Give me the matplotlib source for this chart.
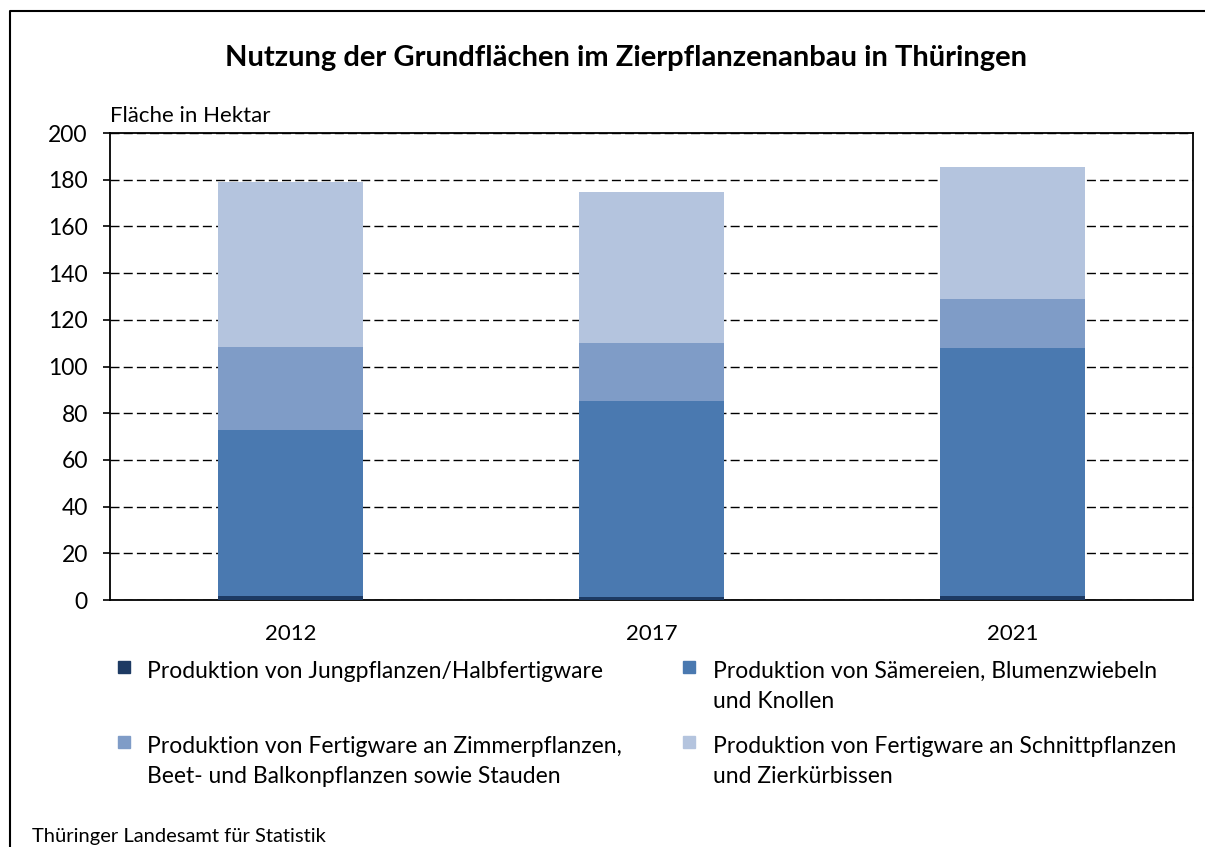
import matplotlib.pyplot as plt
from matplotlib.patches import Rectangle
from matplotlib.lines import Line2D

plt.rcParams['font.family'] = ['Lato', 'DejaVu Sans']

years = ['2012', '2017', '2021']
jungpflanzen = [1.5, 1.2, 1.5]
saemereien = [71.5, 84.0, 106.5]
zimmerpflanzen = [35.4, 24.9, 21.0]
schnittpflanzen = [70.6, 64.6, 56.5]

series = [jungpflanzen, saemereien, zimmerpflanzen, schnittpflanzen]
labels = ['Produktion von Jungpflanzen/Halbfertigware',
          'Produktion von Sämereien, Blumenzwiebeln\nund Knollen',
          'Produktion von Fertigware an Zimmerpflanzen,\nBeet- und Balkonpflanzen sowie Stauden',
          'Produktion von Fertigware an Schnittpflanzen\nund Zierkürbissen']
colors = ['#1d3a63', '#4a79b0', '#7f9cc7', '#b4c4de']

W, H = 1205, 847
fig = plt.figure(figsize=(W / 100, H / 100), dpi=100)
ax = fig.add_axes([110 / W, 1 - 600 / H, 1083 / W, 467 / H])

x = range(len(years))
bottom = [0, 0, 0]
for vals, col in zip(series, colors):
    ax.bar(x, vals, bottom=bottom, width=0.4, color=col, zorder=3)
    bottom = [b + v for b, v in zip(bottom, vals)]

ax.set_xlim(-0.5, 2.5)
ax.set_ylim(0, 200)
ax.set_yticks(range(0, 201, 20))
ax.set_xticks(list(x))
ax.set_xticklabels(years)
ax.yaxis.grid(True, linestyle=(0, (6.5, 3)), color='black', linewidth=1.0, zorder=0)
ax.tick_params(axis='y', labelsize=16.5, length=5, width=1.2, direction='out', pad=11)
ax.tick_params(axis='x', labelsize=16, length=0, pad=17)
for s in ax.spines.values():
    s.set_linewidth(1.3)

fig.text(110 / W, 1 - 116 / H, 'Fläche in Hektar', fontsize=16, ha='left', va='center')

fig.text(626 / W, 1 - 58 / H, 'Nutzung der Grundflächen im Zierpflanzenanbau in Thüringen',
         fontsize=21, fontweight='bold', ha='center', va='center')

# legend, drawn by hand so the squares sit on the first text line
legend_pos = [(118, 147, 667), (683, 713, 667), (118, 147, 742), (683, 713, 742)]
for (mx, tx, ty), lab, col in zip(legend_pos, labels, colors):
    fig.patches.append(Rectangle((mx / W, 1 - (ty + 6) / H), 12 / W, 12 / H,
                                 transform=fig.transFigure, color=col))
    for i, line in enumerate(lab.split('\n')):
        fig.text(tx / W, 1 - (ty + 4 + 30 * i) / H, line, fontsize=16.5,
                 ha='left', va='center')

fig.text(32 / W, 1 - 836 / H, 'Thüringer Landesamt für Statistik', fontsize=14.5,
         ha='left', va='center')

# outer frame (only top and left edge visible)
fig.lines.append(Line2D([10 / W, 10 / W, 1], [0, 1 - 11 / H, 1 - 11 / H],
                        transform=fig.transFigure, color='black', linewidth=1.5))

plt.savefig('out.png', dpi=100)
